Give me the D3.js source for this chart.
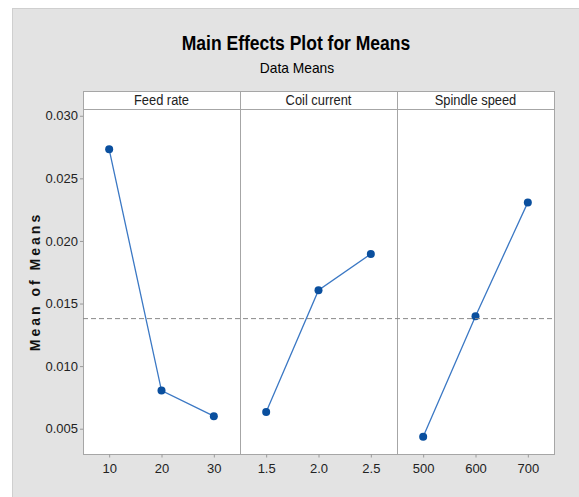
<!DOCTYPE html>
<html>
<head>
<meta charset="utf-8">
<script src="https://cdn.jsdelivr.net/npm/d3@7"></script>
<style>
  body { margin: 0; background: #fff; }
  svg text { font-family: "Liberation Sans Narrow", "Arial Narrow", "Liberation Sans", sans-serif; fill: #222; }
</style>
</head>
<body>
<svg id="chart"></svg>
<script>
// data
const factors = ["Feed rate", "Coil current", "Spindle speed"];
const feedLevels = [10, 20, 30];
const feedMeans = [0.02732, 0.00805, 0.00600];
const coilLevels = [1.5, 2.0, 2.5];
const coilMeans = [0.00633, 0.01606, 0.01896];
const spindleLevels = [500, 600, 700];
const spindleMeans = [0.00436, 0.01399, 0.02308];
const yTicks = [0.005, 0.010, 0.015, 0.020, 0.025, 0.030];
const xFormats = [d3.format("d"), d3.format(".1f"), d3.format("d")];

const levels = [feedLevels, coilLevels, spindleLevels];
const means = [feedMeans, coilMeans, spindleMeans];
const grandMean = d3.mean(feedMeans.concat(coilMeans, spindleMeans));

const W = 579, H = 497;
const plotLeft = 83, panelW = 157, headTop = 91, plotTop = 109, plotBottom = 454;

const svg = d3.select("#chart").attr("width", W).attr("height", H);

// grey frame
svg.append("rect")
    .attr("x", 12.5).attr("y", 8.5)
    .attr("width", W).attr("height", H)
    .attr("fill", "#e3e3e3").attr("stroke", "#cfcfcf");

// Minitab uses a narrow font, squeeze the titles a bit
svg.append("text")
    .attr("transform", "translate(296,49.5) scale(0.875,1)")
    .attr("text-anchor", "middle")
    .style("font-size", "20px").style("font-weight", "bold")
    .style("fill", "#000")
    .text("Main Effects Plot for Means");
svg.append("text")
    .attr("transform", "translate(297,72.5) scale(0.92,1)")
    .attr("text-anchor", "middle")
    .style("font-size", "15px").style("fill", "#000")
    .text("Data Means");

const y = d3.scaleLinear().domain([0.00298, 0.03054]).range([plotBottom, plotTop]);

// y axis
const yAxis = svg.append("g")
    .attr("transform", `translate(${plotLeft},0)`)
    .call(d3.axisLeft(y).tickValues(yTicks).tickFormat(d3.format(".3f")).tickSize(3).tickPadding(2));
yAxis.select(".domain").remove();
yAxis.selectAll("line").attr("stroke", "#999");
yAxis.selectAll("text").style("font-size", "13px").style("font-family", null).attr("fill", "#222");

svg.append("text")
    .attr("transform", `translate(40,${(plotTop + plotBottom) / 2}) rotate(-90)`)
    .attr("text-anchor", "middle")
    .style("font-family", "'Liberation Sans', Arial, sans-serif")
    .style("font-size", "14px").style("font-weight", "bold")
    .style("letter-spacing", "3px")
    .style("fill", "#111")
    .text("Mean of Means");

factors.forEach((name, i) => {
  const x0 = plotLeft + i * panelW;
  const lv = levels[i];
  const step = lv[1] - lv[0];
  const x = d3.scaleLinear()
      .domain([lv[0] - step / 2, lv[lv.length - 1] + step / 2])
      .range([x0, x0 + panelW]);

  const g = svg.append("g");
  g.append("rect")
      .attr("x", x0 + 0.5).attr("y", headTop + 0.5)
      .attr("width", panelW).attr("height", plotTop - headTop)
      .attr("fill", "#fff").attr("stroke", "#a6a6a6");
  g.append("text")
      .attr("transform", `translate(${x0 + panelW / 2},${plotTop - 4}) scale(0.92,1)`)
      .attr("text-anchor", "middle")
      .style("font-size", "14px")
      .text(name);
  g.append("rect")
      .attr("x", x0 + 0.5).attr("y", plotTop + 0.5)
      .attr("width", panelW).attr("height", plotBottom - plotTop)
      .attr("fill", "#fff").attr("stroke", "#a6a6a6");

  const xa = g.append("g")
      .attr("transform", `translate(0,${plotBottom + 0.5})`)
      .call(d3.axisBottom(x).tickValues(lv).tickFormat(xFormats[i]).tickSize(3).tickPadding(6));
  xa.select(".domain").remove();
  xa.selectAll("line").attr("stroke", "#999");
  xa.selectAll("text").style("font-size", "13px").style("font-family", null).attr("fill", "#222");

  const pts = lv.map((v, j) => [x(v), y(means[i][j])]);
  g.append("path")
      .attr("d", d3.line()(pts))
      .attr("fill", "none").attr("stroke", "#3b78c4").attr("stroke-width", 1.3);
  g.selectAll("circle").data(pts).enter().append("circle")
      .attr("cx", d => d[0]).attr("cy", d => d[1]).attr("r", 4)
      .attr("fill", "#0a4f9e");
});

// grand mean reference line
svg.append("line")
    .attr("x1", plotLeft).attr("x2", plotLeft + 3 * panelW)
    .attr("y1", y(grandMean)).attr("y2", y(grandMean))
    .attr("stroke", "#8a8a8a").attr("stroke-dasharray", "5,3");
</script>
</body>
</html>
